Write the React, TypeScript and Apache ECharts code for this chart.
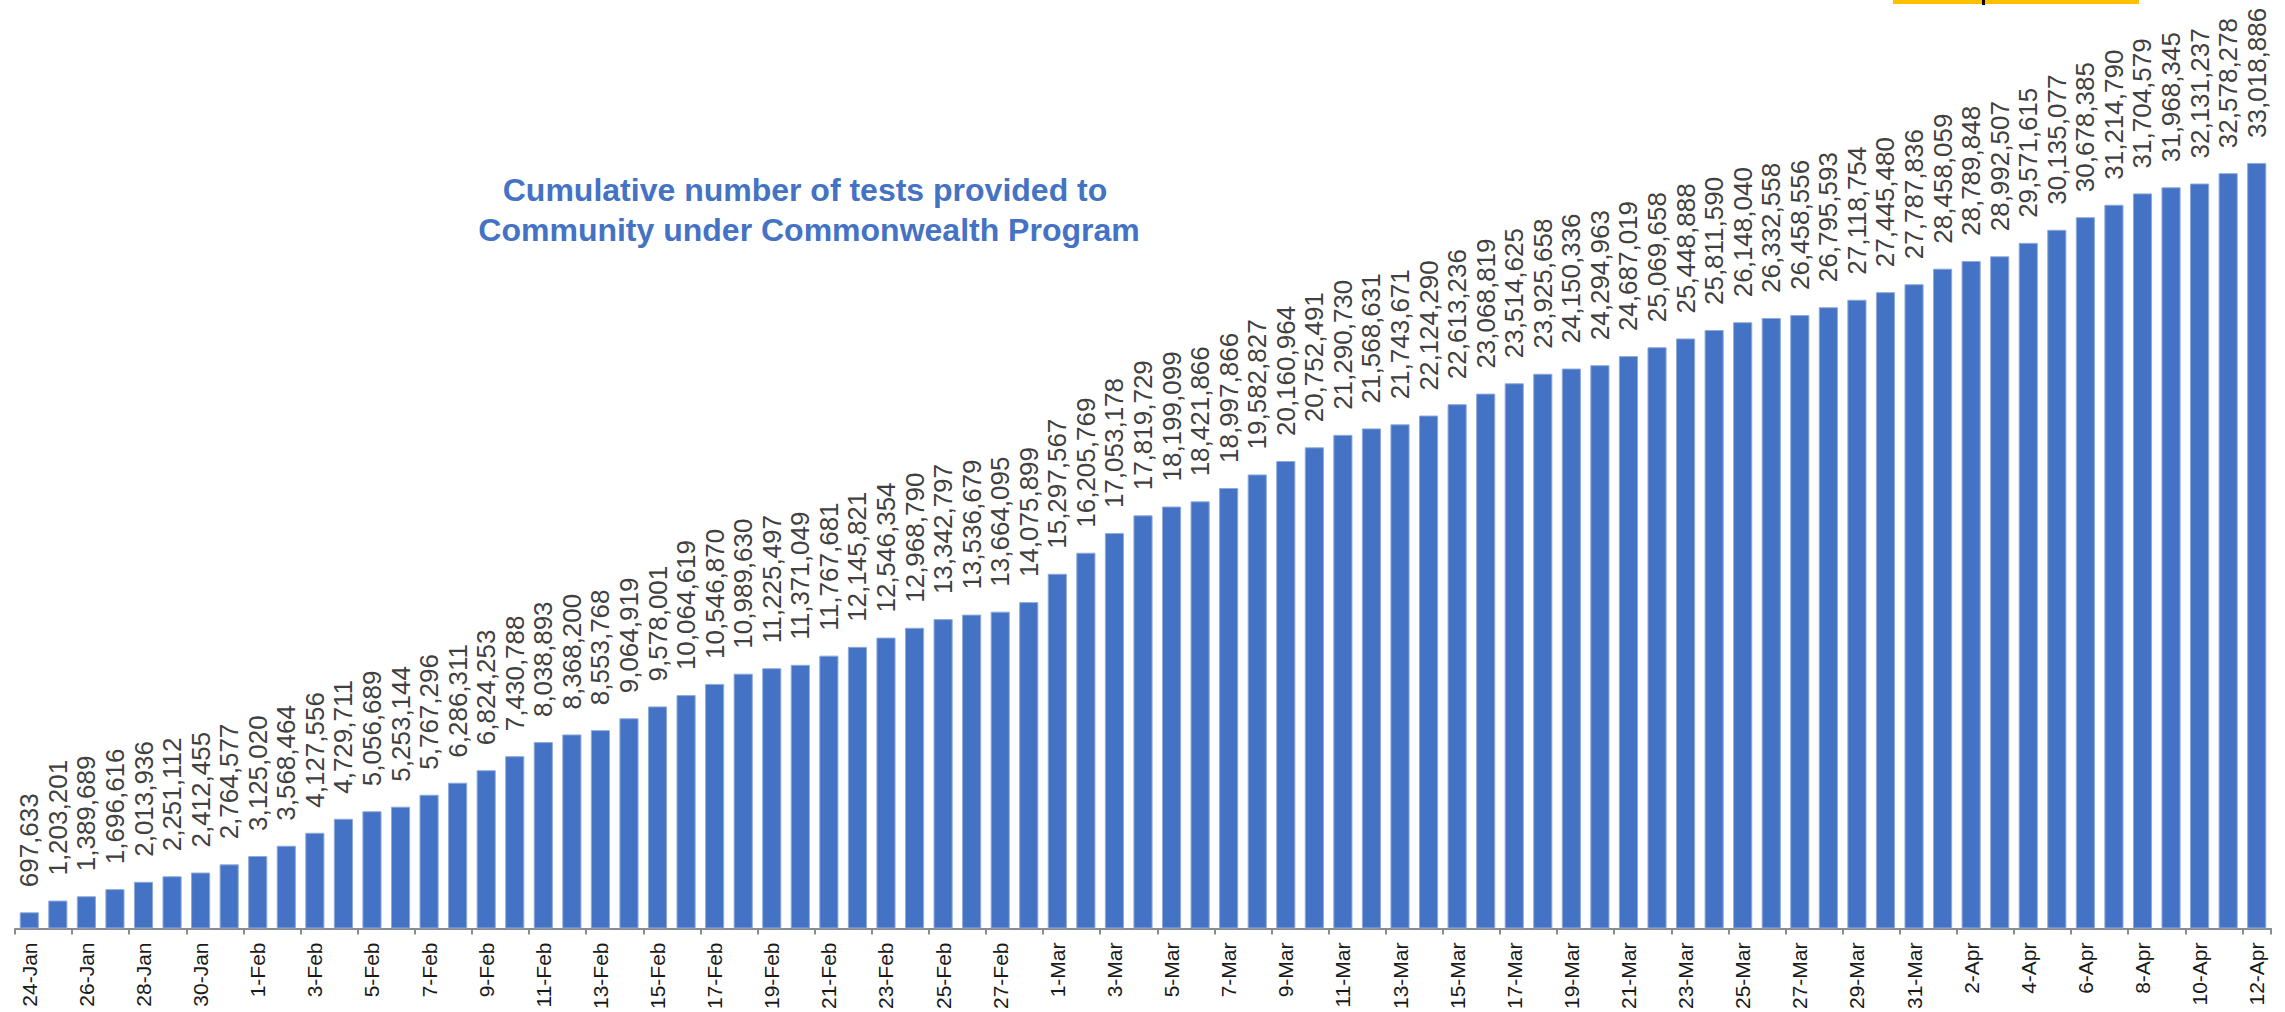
import React, { useEffect, useRef } from "react";
import * as echarts from "echarts";

const categories: string[] = [
  "24-Jan","25-Jan","26-Jan","27-Jan","28-Jan","29-Jan","30-Jan","31-Jan",
  "1-Feb","2-Feb","3-Feb","4-Feb","5-Feb","6-Feb","7-Feb","8-Feb","9-Feb","10-Feb",
  "11-Feb","12-Feb","13-Feb","14-Feb","15-Feb","16-Feb","17-Feb","18-Feb","19-Feb","20-Feb",
  "21-Feb","22-Feb","23-Feb","24-Feb","25-Feb","26-Feb","27-Feb","28-Feb",
  "1-Mar","2-Mar","3-Mar","4-Mar","5-Mar","6-Mar","7-Mar","8-Mar","9-Mar","10-Mar",
  "11-Mar","12-Mar","13-Mar","14-Mar","15-Mar","16-Mar","17-Mar","18-Mar","19-Mar","20-Mar",
  "21-Mar","22-Mar","23-Mar","24-Mar","25-Mar","26-Mar","27-Mar","28-Mar","29-Mar","30-Mar","31-Mar",
  "1-Apr","2-Apr","3-Apr","4-Apr","5-Apr","6-Apr","7-Apr","8-Apr","9-Apr","10-Apr","11-Apr","12-Apr",
];

const testsProvided: number[] = [
  697633, 1203201, 1389689, 1696616, 2013936, 2251112, 2412455, 2764577,
  3125020, 3568464, 4127556, 4729711, 5056689, 5253144, 5767296, 6286311, 6824253, 7430788,
  8038893, 8368200, 8553768, 9064919, 9578001, 10064619, 10546870, 10989630, 11225497, 11371049,
  11767681, 12145821, 12546354, 12968790, 13342797, 13536679, 13664095, 14075899,
  15297567, 16205769, 17053178, 17819729, 18199099, 18421866, 18997866, 19582827, 20160964, 20752491,
  21290730, 21568631, 21743671, 22124290, 22613236, 23068819, 23514625, 23925658, 24150336, 24294963,
  24687019, 25069658, 25448888, 25811590, 26148040, 26332558, 26458556, 26795593, 27118754, 27445480, 27787836,
  28458059, 28789848, 28992507, 29571615, 30135077, 30678385, 31214790, 31704579, 31968345, 32131237, 32578278, 33018886,
];

const titleLines: string[] = [
  "Cumulative number of tests provided to",
  "Community under Commonwealth Program",
];

const FONT = "'Liberation Sans', Arial, sans-serif";

export default function App() {
  const ref = useRef<HTMLDivElement>(null);
  useEffect(() => {
    if (!ref.current) return;
    const chart = echarts.init(ref.current, undefined, { renderer: "svg" });
    chart.setOption({
      animation: false,
      backgroundColor: "#ffffff",
      grid: { left: 15, right: 14, top: 117, bottom: 79, containLabel: false },
      xAxis: {
        type: "category",
        data: categories,
        boundaryGap: true,
        axisLine: { show: true, lineStyle: { color: "#8c8c8c", width: 2 } },
        axisTick: { show: true, interval: 1, length: 6, lineStyle: { color: "#8c8c8c", width: 2 } },
        axisLabel: {
          interval: 1,
          rotate: 90,
          margin: 14,
          fontSize: 21,
          color: "#1a1a1a",
          fontFamily: FONT,
        },
      },
      yAxis: {
        type: "value",
        min: 0,
        max: 35000000,
        show: false,
        splitLine: { show: false },
      },
      series: [
        {
          type: "bar",
          data: testsProvided,
          barCategoryGap: "33%",
          itemStyle: { color: "#4472C4", borderColor: "#8eaadb", borderWidth: 1 },
          label: {
            show: true,
            position: "top",
            rotate: 90,
            align: "left",
            verticalAlign: "middle",
            distance: 25,
            fontSize: 26,
            color: "#404040",
            fontFamily: FONT,
            formatter: (p: any) => Number(p.value).toLocaleString("en-US"),
          },
        },
      ],
      graphic: [
        {
          type: "text",
          x: 805,
          y: 190,
          style: {
            text: titleLines[0],
            fill: "#4472C4",
            font: `bold 32px ${FONT}`,
            align: "center",
            verticalAlign: "middle",
          },
        },
        {
          type: "text",
          x: 809,
          y: 230,
          style: {
            text: titleLines[1],
            fill: "#4472C4",
            font: `bold 32px ${FONT}`,
            align: "center",
            verticalAlign: "middle",
          },
        },
        {
          type: "rect",
          shape: { x: 1893, y: 0, width: 246, height: 4 },
          style: { fill: "#FFC000" },
        },
        {
          type: "rect",
          shape: { x: 1982, y: 0, width: 3, height: 5 },
          style: { fill: "#000000" },
        },
      ],
    });
    return () => chart.dispose();
  }, []);
  return (
    <div
      ref={ref}
      style={{ position: "absolute", left: 0, top: 0, width: 2285, height: 1012 }}
    />
  );
}
